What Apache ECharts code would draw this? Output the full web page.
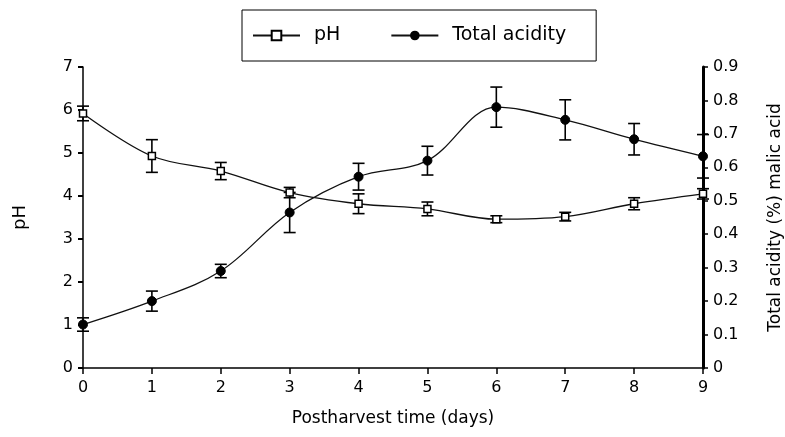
<!DOCTYPE html>
<html>
<head>
<meta charset="utf-8">
<script src="https://cdn.jsdelivr.net/npm/echarts@6/dist/echarts.min.js"></script>
<style>
  html, body { margin: 0; padding: 0; background: #fff; }
  #chart { width: 785px; height: 437px; }
</style>
</head>
<body>
<div id="chart"></div>
<script>
// days after harvest
const days = [0, 1, 2, 3, 4, 5, 6, 7, 8, 9]

// pH (left axis) and its error
const phValues = [5.92, 4.93, 4.58, 4.08, 3.82, 3.7, 3.46, 3.52, 3.82, 4.05]
const phErrors = [0.17, 0.38, 0.2, 0.12, 0.23, 0.16, 0.08, 0.1, 0.14, 0.12]

// total acidity, % malic acid (right axis) and its error
const acidValues = [0.13, 0.2, 0.29, 0.465, 0.572, 0.62, 0.78, 0.742, 0.684, 0.633]
const acidErrors = [0.02, 0.03, 0.02, 0.06, 0.04, 0.043, 0.06, 0.06, 0.047, 0.065]

const leftTicks = [0, 1, 2, 3, 4, 5, 6, 7]
const rightTicks = [0, 0.1, 0.2, 0.3, 0.4, 0.5, 0.6, 0.7, 0.8, 0.9]

const font = 'DejaVu Sans'

// x, low, high for each error bar
function errorData(values, errors) {
  return days.map((d, i) => [d, values[i] - errors[i], values[i] + errors[i]])
}

// vertical bar with two caps
function renderErrorBar(params, api) {
  const x = api.value(0)
  const lo = api.coord([x, api.value(1)])
  const hi = api.coord([x, api.value(2)])
  const half = 6
  const style = { stroke: '#000', lineWidth: 1.6 }
  return {
    type: 'group',
    children: [
      { type: 'line', shape: { x1: lo[0], y1: lo[1], x2: hi[0], y2: hi[1] }, style },
      { type: 'line', shape: { x1: lo[0] - half, y1: lo[1], x2: lo[0] + half, y2: lo[1] }, style },
      { type: 'line', shape: { x1: hi[0] - half, y1: hi[1], x2: hi[0] + half, y2: hi[1] }, style },
    ],
  }
}

const myChart = echarts.init(document.getElementById('chart'))

myChart.setOption({
  animation: false,
  textStyle: { fontFamily: font, color: '#000' },
  legend: {
    left: 242,
    top: 10,
    padding: [16, 30, 16, 10],
    itemGap: 50,
    itemWidth: 47,
    itemHeight: 12,
    borderColor: '#000',
    borderWidth: 1,
    borderRadius: 0,
    textStyle: { fontFamily: font, fontSize: 19, color: '#000', padding: [0, 0, 0, 9] },
    data: ['pH', 'Total acidity'],
  },
  grid: {
    left: 83,
    right: 82,
    top: 67,
    bottom: 69,
    outerBoundsMode: 'none',
  },
  xAxis: {
    type: 'value',
    min: 0,
    max: 9,
    interval: 1,
    name: 'Postharvest time (days)',
    nameLocation: 'middle',
    nameGap: 42,
    nameTextStyle: { fontFamily: font, fontSize: 17, color: '#000' },
    axisLine: { lineStyle: { color: '#000', width: 1.5 } },
    axisTick: { length: 6, lineStyle: { color: '#000', width: 1.5 } },
    axisLabel: { fontSize: 16, color: '#000', margin: 12 },
    splitLine: { show: false },
  },
  yAxis: [
    {
      type: 'value',
      min: leftTicks[0],
      max: leftTicks[leftTicks.length - 1],
      interval: 1,
      name: 'pH',
      nameLocation: 'middle',
      nameGap: 54,
      nameRotate: 90,
      nameTextStyle: { fontFamily: font, fontSize: 18, color: '#000' },
      axisLine: { show: true, lineStyle: { color: '#000', width: 1.5 } },
      axisTick: { show: true, length: 5, lineStyle: { color: '#000', width: 2 } },
      axisLabel: { fontSize: 16, color: '#000', margin: 10 },
      splitLine: { show: false },
    },
    {
      type: 'value',
      position: 'right',
      min: rightTicks[0],
      max: rightTicks[rightTicks.length - 1],
      interval: 0.1,
      name: 'Total acidity (%) malic acid',
      nameLocation: 'middle',
      nameGap: 64,
      nameRotate: 90,
      nameTextStyle: { fontFamily: font, fontSize: 17, color: '#000' },
      axisLine: { show: true, lineStyle: { color: '#000', width: 3 } },
      axisTick: { show: true, length: 5, lineStyle: { color: '#000', width: 1.5 } },
      axisLabel: { fontSize: 16, color: '#000', margin: 10 },
      splitLine: { show: false },
    },
  ],
  series: [
    {
      name: 'pH',
      type: 'line',
      yAxisIndex: 0,
      smooth: 0.35,
      data: days.map((d, i) => [d, phValues[i]]),
      symbol: 'rect',
      symbolSize: 7,
      lineStyle: { color: '#111', width: 1.3 },
      itemStyle: { color: '#fff', borderColor: '#000', borderWidth: 1.5 },
      z: 3,
    },
    {
      name: 'Total acidity',
      type: 'line',
      yAxisIndex: 1,
      smooth: 0.35,
      data: days.map((d, i) => [d, acidValues[i]]),
      symbol: 'circle',
      symbolSize: 9,
      showAllSymbol: true,
      lineStyle: { color: '#111', width: 1.3 },
      itemStyle: { color: '#000', borderColor: '#000' },
      z: 3,
    },
    {
      type: 'custom',
      yAxisIndex: 0,
      renderItem: renderErrorBar,
      data: errorData(phValues, phErrors),
      encode: { x: 0, y: [1, 2] },
      z: 2,
    },
    {
      type: 'custom',
      yAxisIndex: 1,
      renderItem: renderErrorBar,
      data: errorData(acidValues, acidErrors),
      encode: { x: 0, y: [1, 2] },
      z: 2,
    },
  ],
})
</script>
</body>
</html>
